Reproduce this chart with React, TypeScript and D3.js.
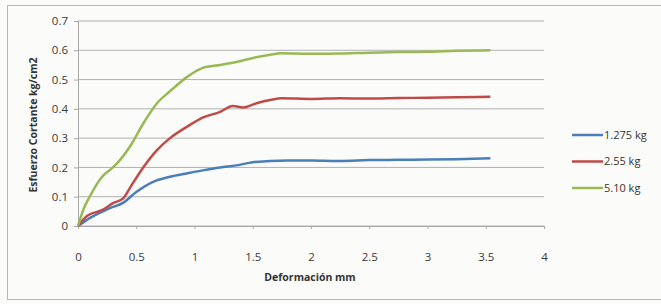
import React, { useEffect, useRef } from "react";
import * as d3 from "d3";

// Deformación (mm) vs Esfuerzo cortante (kg/cm2)
const blueX = [0, 0.1, 0.27, 0.39, 0.5, 0.64, 0.79, 0.94, 1.07, 1.22, 1.36, 1.5, 1.65, 1.8, 2.0, 2.25, 2.5, 2.75, 3.0, 3.25, 3.54];
const blueY = [0, 0.027, 0.06, 0.08, 0.116, 0.15, 0.168, 0.18, 0.19, 0.2, 0.207, 0.218, 0.222, 0.224, 0.224, 0.222, 0.225, 0.226, 0.227, 0.228, 0.231];

const redX = [0, 0.08, 0.21, 0.3, 0.39, 0.45, 0.56, 0.68, 0.79, 0.94, 1.07, 1.22, 1.33, 1.42, 1.54, 1.65, 1.75, 2.0, 2.25, 2.5, 2.75, 3.0, 3.25, 3.54];
const redY = [0, 0.035, 0.055, 0.078, 0.095, 0.133, 0.2, 0.26, 0.3, 0.34, 0.37, 0.39, 0.41, 0.405, 0.42, 0.43, 0.436, 0.434, 0.436, 0.435, 0.437, 0.438, 0.44, 0.441];

const greenX = [0, 0.05, 0.1, 0.2, 0.3, 0.36, 0.46, 0.56, 0.68, 0.79, 0.94, 1.07, 1.22, 1.36, 1.54, 1.65, 1.75, 2.0, 2.25, 2.5, 2.75, 3.0, 3.25, 3.54];
const greenY = [0, 0.06, 0.1, 0.165, 0.2, 0.225, 0.28, 0.35, 0.42, 0.46, 0.51, 0.54, 0.55, 0.56, 0.577, 0.585, 0.59, 0.588, 0.589, 0.592, 0.594, 0.595, 0.598, 0.6];

const seriesNames = ["1.275 kg", "2.55 kg", "5.10 kg"];
const seriesColors = ["#4a7ebb", "#be4b48", "#98b954"];
const xTicks = [0, 0.5, 1, 1.5, 2, 2.5, 3, 3.5, 4];
const yTicks = [0, 0.1, 0.2, 0.3, 0.4, 0.5, 0.6, 0.7];

const W = 661, H = 304;
const font = "'Open Sans', 'Liberation Sans', sans-serif";

export default function App() {
  const ref = useRef<SVGSVGElement>(null);

  useEffect(() => {
    const svg = d3.select(ref.current);
    svg.selectAll("*").remove();

    svg.append("rect").attr("width", W).attr("height", H).attr("fill", "#fbfbfa");
    svg.append("rect")
      .attr("x", 7.5).attr("y", 5.5).attr("width", 700).attr("height", 294)
      .attr("fill", "none").attr("stroke", "#b8b8b8");

    const x = d3.scaleLinear().domain([0, 4]).range([78, 544]);
    const y = d3.scaleLinear().domain([0, 0.7]).range([226, 21]);

    // gridlines
    svg.append("g").selectAll("line").data(yTicks).join("line")
      .attr("x1", x(0)).attr("x2", x(4))
      .attr("y1", d => y(d)).attr("y2", d => y(d))
      .attr("stroke", "#a8a8a8").attr("stroke-width", 0.9);

    // axes
    const xAxis = svg.append("g").attr("transform", `translate(0,${y(0)})`)
      .call(d3.axisBottom(x).tickValues(xTicks).tickSize(3).tickFormat(d => String(d)));
    const yAxis = svg.append("g").attr("transform", `translate(${x(0)},0)`)
      .call(d3.axisLeft(y).tickValues(yTicks).tickSize(4).tickFormat(d => (d === 0 ? "0" : d3.format(".1f")(d as number))));
    [xAxis, yAxis].forEach(a => {
      a.select(".domain").attr("stroke", "#a8a8a8");
      a.selectAll(".tick line").attr("stroke", "#a8a8a8");
      a.selectAll("text").attr("fill", "#3a3a3a").style("font-family", font).style("font-size", "11.5px");
    });
    xAxis.selectAll("text").attr("y", 27);
    yAxis.selectAll("text").attr("x", -10);

    // series
    const sets = [
      blueX.map((v, i) => [v, blueY[i]]),
      redX.map((v, i) => [v, redY[i]]),
      greenX.map((v, i) => [v, greenY[i]]),
    ];
    const line = d3.line<number[]>().x(d => x(d[0])).y(d => y(d[1])).curve(d3.curveMonotoneX);
    svg.append("g").selectAll("path").data(sets).join("path")
      .attr("d", d => line(d))
      .attr("fill", "none")
      .attr("stroke", (d, i) => seriesColors[i])
      .attr("stroke-width", 2.5);

    // titles
    svg.append("text").attr("x", 310).attr("y", 281).attr("text-anchor", "middle")
      .style("font-family", font).style("font-size", "10.5px").style("font-weight", "bold")
      .attr("fill", "#333").text("Deformación mm");
    svg.append("text").attr("transform", "translate(37,125) rotate(-90)").attr("text-anchor", "middle")
      .style("font-family", font).style("font-size", "10.5px").style("font-weight", "bold")
      .attr("fill", "#333").text("Esfuerzo Cortante kg/cm2");

    // legend
    const leg = svg.append("g").selectAll("g").data(seriesNames).join("g")
      .attr("transform", (d, i) => `translate(572,${135 + i * 26.5})`);
    leg.append("line").attr("x1", 0).attr("x2", 31)
      .attr("stroke", (d, i) => seriesColors[i]).attr("stroke-width", 2.5);
    leg.append("text").attr("x", 32).attr("dy", "0.35em")
      .style("font-family", font).style("font-size", "11px").attr("fill", "#333")
      .text(d => d);
  }, []);

  return (
    <svg ref={ref} width={W} height={H} style={{ position: "absolute", left: 0, top: 0 }} />
  );
}
